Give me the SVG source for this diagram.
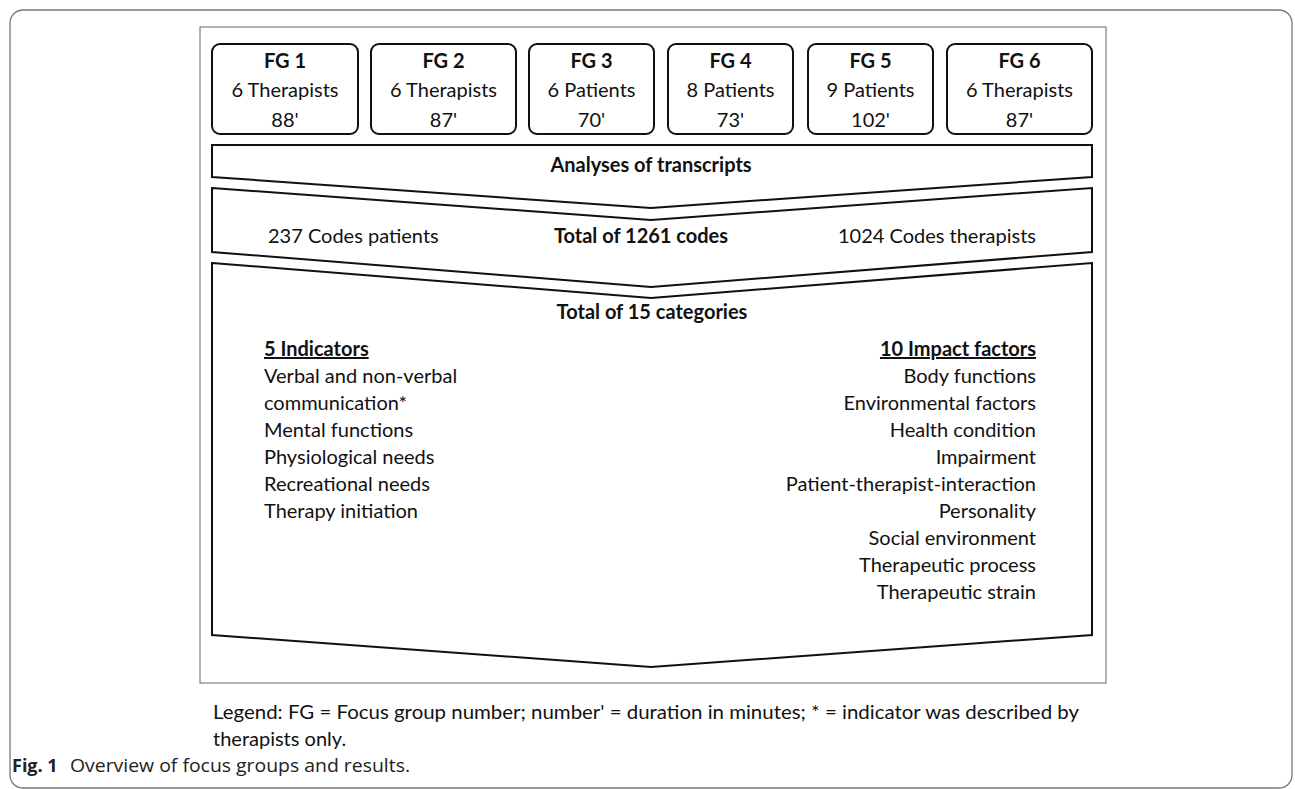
<svg xmlns="http://www.w3.org/2000/svg" width="1295" height="789" viewBox="0 0 1295 789">
<style>
  .frame{fill:none;stroke:#777;stroke-width:1.3}
  .inner{fill:#fff;stroke:#666;stroke-width:1}
  .box{fill:#fff;stroke:#111;stroke-width:2}
  .chev{fill:#fff;stroke:#111;stroke-width:2;stroke-linejoin:miter}
  text{font-family:Lato,"Open Sans",sans-serif;font-size:20px;fill:#111}
  .b{font-weight:bold}
  .c{text-anchor:middle}
  .r{text-anchor:end}
  .u{text-decoration:underline}
  .cap{font-family:"Open Sans","Noto Sans",sans-serif;font-size:18px;fill:#222}
</style>
<rect class="frame" x="10" y="10" width="1282" height="778" rx="13"/>
<rect class="inner" x="200" y="27" width="906" height="656"/>

<g id="fg1"><rect class="box" x="212" y="44" width="146" height="90" rx="8"/>
<text class="b c" x="285" y="68">FG 1</text><text class="c" x="285" y="97">6 Therapists</text><text class="c" x="285" y="127">88'</text></g>
<g id="fg2"><rect class="box" x="371" y="44" width="145" height="90" rx="8"/>
<text class="b c" x="443.5" y="68">FG 2</text><text class="c" x="443.5" y="97">6 Therapists</text><text class="c" x="443.5" y="127">87'</text></g>
<g id="fg3"><rect class="box" x="529" y="44" width="125" height="90" rx="8"/>
<text class="b c" x="591.5" y="68">FG 3</text><text class="c" x="591.5" y="97">6 Patients</text><text class="c" x="591.5" y="127">70'</text></g>
<g id="fg4"><rect class="box" x="668" y="44" width="125" height="90" rx="8"/>
<text class="b c" x="730.5" y="68">FG 4</text><text class="c" x="730.5" y="97">8 Patients</text><text class="c" x="730.5" y="127">73'</text></g>
<g id="fg5"><rect class="box" x="808" y="44" width="125" height="90" rx="8"/>
<text class="b c" x="870.5" y="68">FG 5</text><text class="c" x="870.5" y="97">9 Patients</text><text class="c" x="870.5" y="127">102'</text></g>
<g id="fg6"><rect class="box" x="947" y="44" width="145" height="90" rx="8"/>
<text class="b c" x="1019.5" y="68">FG 6</text><text class="c" x="1019.5" y="97">6 Therapists</text><text class="c" x="1019.5" y="127">87'</text></g>

<g id="analyses">
<polygon class="chev" points="212,145 1092,145 1092,177 651,208 212,177"/>
<text class="b c" x="651" y="172">Analyses of transcripts</text>
</g>

<g id="codes">
<polygon class="chev" points="212,188 651,220 1092,188 1092,252 651,287 212,252"/>
<text x="268" y="243">237 Codes patients</text>
<text class="b c" x="641" y="243">Total of 1261 codes</text>
<text class="r" x="1036" y="243">1024 Codes therapists</text>
</g>

<g id="categories">
<polygon class="chev" points="212,263 651,298 1092,263 1092,635 651,667 212,635"/>
<text class="b c" x="652" y="319">Total of 15 categories</text>
<text class="b u" x="264" y="356">5 Indicators</text>
<text x="264" y="383">Verbal and non-verbal</text>
<text x="264" y="410">communication*</text>
<text x="264" y="437">Mental functions</text>
<text x="264" y="464">Physiological needs</text>
<text x="264" y="491">Recreational needs</text>
<text x="264" y="518">Therapy initiation</text>
<text class="b u r" x="1036" y="356">10 Impact factors</text>
<text class="r" x="1036" y="383">Body functions</text>
<text class="r" x="1036" y="410">Environmental factors</text>
<text class="r" x="1036" y="437">Health condition</text>
<text class="r" x="1036" y="464">Impairment</text>
<text class="r" x="1036" y="491">Patient-therapist-interaction</text>
<text class="r" x="1036" y="518">Personality</text>
<text class="r" x="1036" y="545">Social environment</text>
<text class="r" x="1036" y="572">Therapeutic process</text>
<text class="r" x="1036" y="599">Therapeutic strain</text>
</g>

<g id="connectors"></g>

<g id="legend">
<text x="213" y="719" textLength="866" lengthAdjust="spacingAndGlyphs">Legend: FG = Focus group number; number' = duration in minutes; * = indicator was described by</text>
<text x="213" y="746">therapists only.</text>
<text class="cap" x="12" y="772" font-weight="bold">Fig. 1</text>
<text class="cap" x="70" y="772" textLength="340" lengthAdjust="spacingAndGlyphs">Overview of focus groups and results.</text>
</g>
</svg>
